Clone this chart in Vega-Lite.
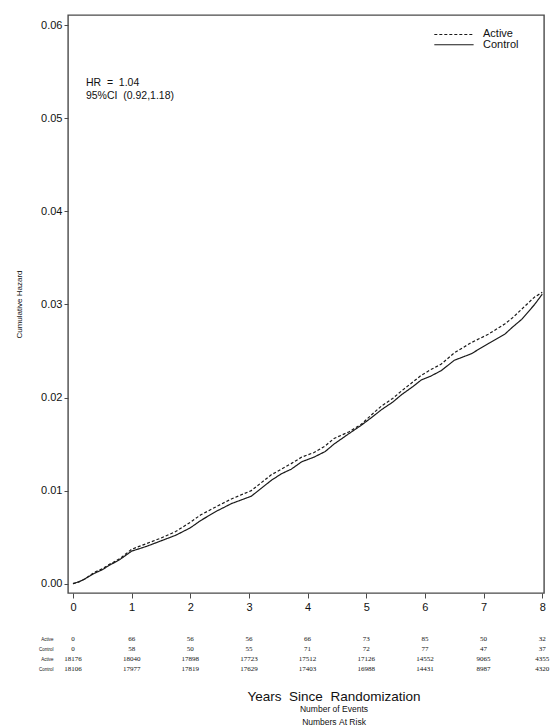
{
  "$schema": "https://vega.github.io/schema/vega-lite/v6.json",
  "background": "white",
  "padding": {"left": 14, "top": 14, "right": 6, "bottom": 2},
  "spacing": 21,
  "config": {
    "font": "Liberation Sans",
    "view": {"stroke": "#4a4a4a", "strokeWidth": 1.4},
    "axis": {"grid": false, "labelColor": "#111", "tickColor": "#4a4a4a", "titleColor": "#111", "titleFontWeight": "normal"},
    "text": {"color": "#111"}
  },
  "vconcat": [
    {
      "width": 476,
      "height": 578,
      "layer": [
        {
          "data": {"values": [
            {"arm": "Active", "t": 0, "h": 0}, {"arm": "Active", "t": 0.1, "h": 0.0002}, {"arm": "Active", "t": 0.2, "h": 0.0005}, {"arm": "Active", "t": 0.36, "h": 0.0012}, {"arm": "Active", "t": 0.5, "h": 0.0016}, {"arm": "Active", "t": 0.6, "h": 0.002}, {"arm": "Active", "t": 0.8, "h": 0.0027}, {"arm": "Active", "t": 1.0, "h": 0.0037}, {"arm": "Active", "t": 1.25, "h": 0.0043}, {"arm": "Active", "t": 1.5, "h": 0.0049}, {"arm": "Active", "t": 1.75, "h": 0.0056}, {"arm": "Active", "t": 2.0, "h": 0.0066}, {"arm": "Active", "t": 2.18, "h": 0.0074}, {"arm": "Active", "t": 2.45, "h": 0.0083}, {"arm": "Active", "t": 2.7, "h": 0.0091}, {"arm": "Active", "t": 3.04, "h": 0.01}, {"arm": "Active", "t": 3.2, "h": 0.0108}, {"arm": "Active", "t": 3.38, "h": 0.0117}, {"arm": "Active", "t": 3.55, "h": 0.0123}, {"arm": "Active", "t": 3.72, "h": 0.0129}, {"arm": "Active", "t": 3.9, "h": 0.0136}, {"arm": "Active", "t": 4.11, "h": 0.0141}, {"arm": "Active", "t": 4.3, "h": 0.0148}, {"arm": "Active", "t": 4.45, "h": 0.0156}, {"arm": "Active", "t": 4.7, "h": 0.0163}, {"arm": "Active", "t": 4.91, "h": 0.0171}, {"arm": "Active", "t": 5.1, "h": 0.0182}, {"arm": "Active", "t": 5.26, "h": 0.0191}, {"arm": "Active", "t": 5.45, "h": 0.0199}, {"arm": "Active", "t": 5.6, "h": 0.0207}, {"arm": "Active", "t": 5.8, "h": 0.0217}, {"arm": "Active", "t": 5.94, "h": 0.0224}, {"arm": "Active", "t": 6.1, "h": 0.023}, {"arm": "Active", "t": 6.28, "h": 0.0236}, {"arm": "Active", "t": 6.5, "h": 0.0248}, {"arm": "Active", "t": 6.79, "h": 0.0259}, {"arm": "Active", "t": 7.08, "h": 0.0268}, {"arm": "Active", "t": 7.36, "h": 0.0279}, {"arm": "Active", "t": 7.5, "h": 0.0286}, {"arm": "Active", "t": 7.65, "h": 0.0295}, {"arm": "Active", "t": 7.87, "h": 0.0308}, {"arm": "Active", "t": 8.0, "h": 0.0313},
            {"arm": "Control", "t": 0, "h": 0}, {"arm": "Control", "t": 0.1, "h": 0.0002}, {"arm": "Control", "t": 0.2, "h": 0.0005}, {"arm": "Control", "t": 0.36, "h": 0.0011}, {"arm": "Control", "t": 0.5, "h": 0.0015}, {"arm": "Control", "t": 0.6, "h": 0.0019}, {"arm": "Control", "t": 0.8, "h": 0.0026}, {"arm": "Control", "t": 1.0, "h": 0.0035}, {"arm": "Control", "t": 1.25, "h": 0.004}, {"arm": "Control", "t": 1.5, "h": 0.0046}, {"arm": "Control", "t": 1.75, "h": 0.0052}, {"arm": "Control", "t": 2.0, "h": 0.006}, {"arm": "Control", "t": 2.18, "h": 0.0068}, {"arm": "Control", "t": 2.45, "h": 0.0078}, {"arm": "Control", "t": 2.7, "h": 0.0086}, {"arm": "Control", "t": 3.04, "h": 0.0094}, {"arm": "Control", "t": 3.2, "h": 0.0102}, {"arm": "Control", "t": 3.38, "h": 0.0111}, {"arm": "Control", "t": 3.55, "h": 0.0118}, {"arm": "Control", "t": 3.72, "h": 0.0123}, {"arm": "Control", "t": 3.9, "h": 0.0131}, {"arm": "Control", "t": 4.11, "h": 0.0136}, {"arm": "Control", "t": 4.3, "h": 0.0142}, {"arm": "Control", "t": 4.45, "h": 0.015}, {"arm": "Control", "t": 4.7, "h": 0.0161}, {"arm": "Control", "t": 4.91, "h": 0.017}, {"arm": "Control", "t": 5.1, "h": 0.0179}, {"arm": "Control", "t": 5.26, "h": 0.0187}, {"arm": "Control", "t": 5.45, "h": 0.0195}, {"arm": "Control", "t": 5.6, "h": 0.0203}, {"arm": "Control", "t": 5.8, "h": 0.0212}, {"arm": "Control", "t": 5.94, "h": 0.0219}, {"arm": "Control", "t": 6.1, "h": 0.0223}, {"arm": "Control", "t": 6.28, "h": 0.0229}, {"arm": "Control", "t": 6.5, "h": 0.024}, {"arm": "Control", "t": 6.79, "h": 0.0247}, {"arm": "Control", "t": 7.08, "h": 0.0258}, {"arm": "Control", "t": 7.36, "h": 0.0268}, {"arm": "Control", "t": 7.5, "h": 0.0276}, {"arm": "Control", "t": 7.65, "h": 0.0284}, {"arm": "Control", "t": 7.87, "h": 0.03}, {"arm": "Control", "t": 8.0, "h": 0.0311}
          ]},
          "mark": {"type": "line", "strokeWidth": 1.2, "color": "#1a1a1a", "clip": true},
          "encoding": {
            "x": {"field": "t", "type": "quantitative",
              "scale": {"domain": [-0.085, 8.03], "nice": false, "zero": false},
              "axis": {"values": [0, 1, 2, 3, 4, 5, 6, 7, 8], "format": "d", "domain": false, "tickSize": 5, "labelFontSize": 11, "labelPadding": 3, "labelFlush": false, "title": null}},
            "y": {"field": "h", "type": "quantitative",
              "scale": {"domain": [-0.001, 0.0611], "nice": false, "zero": false},
              "axis": {"values": [0, 0.01, 0.02, 0.03, 0.04, 0.05, 0.06], "format": ".2f", "domain": false, "tickSize": 4, "labelFontSize": 11, "labelPadding": 2, "title": "Cumulative Hazard", "titleFontSize": 8, "titlePadding": 17}},
            "strokeDash": {"field": "arm", "type": "nominal",
              "scale": {"domain": ["Active", "Control"], "range": [[3, 2], [1, 0]]}, "legend": null}
          }
        },
        {
          "data": {"values": [{}]},
          "mark": {"type": "rule", "strokeDash": [3, 2], "strokeWidth": 1.1, "color": "#1a1a1a"},
          "encoding": {"x": {"datum": 6.16}, "x2": {"datum": 6.83}, "y": {"datum": 0.059}}
        },
        {
          "data": {"values": [{}]},
          "mark": {"type": "rule", "strokeWidth": 1.1, "color": "#1a1a1a"},
          "encoding": {"x": {"datum": 6.16}, "x2": {"datum": 6.83}, "y": {"datum": 0.0579}}
        },
        {
          "data": {"values": [{}]},
          "mark": {"type": "text", "align": "left", "baseline": "middle", "fontSize": 11},
          "encoding": {"x": {"datum": 6.99}, "y": {"datum": 0.0591}, "text": {"value": "Active"}}
        },
        {
          "data": {"values": [{}]},
          "mark": {"type": "text", "align": "left", "baseline": "middle", "fontSize": 11},
          "encoding": {"x": {"datum": 6.99}, "y": {"datum": 0.0579}, "text": {"value": "Control"}}
        },
        {
          "data": {"values": [{}]},
          "mark": {"type": "text", "align": "left", "baseline": "middle", "fontSize": 10.5},
          "encoding": {"x": {"datum": 0.22}, "y": {"datum": 0.0538}, "text": {"value": "HR\u00a0\u00a0=\u00a0\u00a01.04"}}
        },
        {
          "data": {"values": [{}]},
          "mark": {"type": "text", "align": "left", "baseline": "middle", "fontSize": 10.5},
          "encoding": {"x": {"datum": 0.22}, "y": {"datum": 0.05236}, "text": {"value": "95%CI\u00a0\u00a0(0.92,1.18)"}}
        }
      ]
    },
    {
      "width": 476,
      "height": 40,
      "view": {"stroke": null},
      "data": {"values": [
        {"row": "Active events", "year": 0, "value": "0"}, {"row": "Active events", "year": 1, "value": "66"}, {"row": "Active events", "year": 2, "value": "56"}, {"row": "Active events", "year": 3, "value": "56"}, {"row": "Active events", "year": 4, "value": "66"}, {"row": "Active events", "year": 5, "value": "73"}, {"row": "Active events", "year": 6, "value": "85"}, {"row": "Active events", "year": 7, "value": "50"}, {"row": "Active events", "year": 8, "value": "32"},
        {"row": "Control events", "year": 0, "value": "0"}, {"row": "Control events", "year": 1, "value": "58"}, {"row": "Control events", "year": 2, "value": "50"}, {"row": "Control events", "year": 3, "value": "55"}, {"row": "Control events", "year": 4, "value": "71"}, {"row": "Control events", "year": 5, "value": "72"}, {"row": "Control events", "year": 6, "value": "77"}, {"row": "Control events", "year": 7, "value": "47"}, {"row": "Control events", "year": 8, "value": "37"},
        {"row": "Active risk", "year": 0, "value": "18176"}, {"row": "Active risk", "year": 1, "value": "18040"}, {"row": "Active risk", "year": 2, "value": "17898"}, {"row": "Active risk", "year": 3, "value": "17723"}, {"row": "Active risk", "year": 4, "value": "17512"}, {"row": "Active risk", "year": 5, "value": "17126"}, {"row": "Active risk", "year": 6, "value": "14552"}, {"row": "Active risk", "year": 7, "value": "9065"}, {"row": "Active risk", "year": 8, "value": "4355"},
        {"row": "Control risk", "year": 0, "value": "18106"}, {"row": "Control risk", "year": 1, "value": "17977"}, {"row": "Control risk", "year": 2, "value": "17819"}, {"row": "Control risk", "year": 3, "value": "17629"}, {"row": "Control risk", "year": 4, "value": "17403"}, {"row": "Control risk", "year": 5, "value": "16988"}, {"row": "Control risk", "year": 6, "value": "14431"}, {"row": "Control risk", "year": 7, "value": "8987"}, {"row": "Control risk", "year": 8, "value": "4320"}
      ]},
      "mark": {"type": "text", "fontSize": 7, "font": "Liberation Sans Narrow", "baseline": "middle"},
      "encoding": {
        "x": {"field": "year", "type": "quantitative", "scale": {"domain": [-0.085, 8.03], "nice": false, "zero": false}, "axis": null},
        "y": {"field": "row", "type": "ordinal",
          "scale": {"domain": ["Active events", "Control events", "Active risk", "Control risk"], "paddingInner": 0, "paddingOuter": 0},
          "axis": {"domain": false, "ticks": false, "labelFontSize": 4.5, "labelPadding": 15, "title": null, "labelExpr": "split(datum.value, ' ')[0]"}},
        "text": {"field": "value", "type": "nominal"}
      },
      "title": {"text": "Years\u00a0\u00a0Since\u00a0\u00a0Randomization", "orient": "bottom", "anchor": "middle", "dx": 28, "fontSize": 13.5, "fontWeight": "normal", "offset": 16,
        "subtitle": ["Number\u00a0of\u00a0Events", "Numbers\u00a0At\u00a0Risk"], "subtitleFontSize": 8.5, "subtitleLineHeight": 13, "subtitleColor": "#111", "color": "#111", "subtitlePadding": 1}
    }
  ]
}
